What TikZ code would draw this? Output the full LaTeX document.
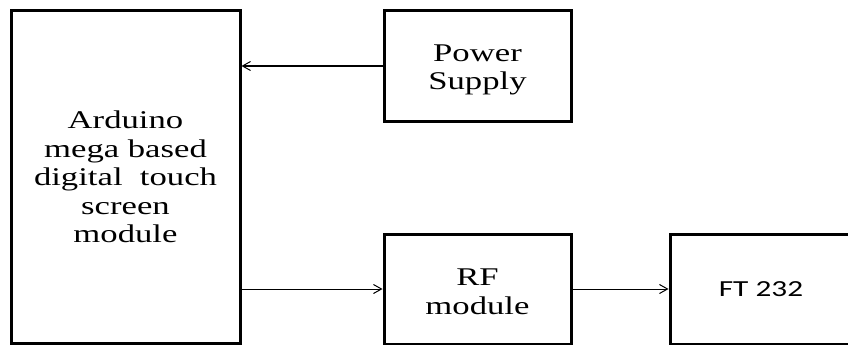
\documentclass[tikz,border=0pt]{standalone}
\usepackage{fontspec}
\usepackage{graphicx}
\setmainfont{Liberation Serif}
\newfontfamily\ftfont{Carlito}
\newcommand{\widetxt}[1]{\scalebox{1.36}[1]{#1}}
\usetikzlibrary{arrows.meta}
\begin{document}
\begin{tikzpicture}[x=1pt,y=-1pt,
  blk/.style={draw=black,line width=3pt,rectangle,inner sep=0pt},
  txt/.style={align=center,inner sep=0pt,font=\fontsize{25.5}{28.5}\selectfont},
  conn/.style={line width=1pt,-{Straight Barb[length=8pt,width=9pt]}}]
\useasboundingbox (0,0) rectangle (848,345);
\node[blk,minimum width=229pt,minimum height=332pt] (ard) at (125.5,177) {};
\node[blk,minimum width=187pt,minimum height=110pt] (ps) at (477.5,66) {};
\node[blk,minimum width=187pt,minimum height=110pt] (rf) at (477.5,289) {};
\node[blk,minimum width=190pt,minimum height=110pt] (ft) at (765,289) {};
\node[txt] (ardt) at (ard.center)
  {\widetxt{Arduino}\\\widetxt{mega based}\\\widetxt{digital\ \ touch}\\\widetxt{screen}\\\widetxt{module}};
\node[txt] (pst) at ([yshift=-4pt]ps.center) {\widetxt{Power}\\\widetxt{Supply}};
\node[txt] (rft) at ([yshift=-3pt]rf.center) {\widetxt{RF}\\\widetxt{module}};
\node[txt,font=\ftfont\fontsize{23}{26}\selectfont] (ftt) at ([xshift=-4pt]ft.center) {\widetxt{FT 232}};
\draw[conn] (ps.west) -- (ard.east |- ps.west);
\draw[conn] (ard.east |- rf.west) -- (rf.west);
\draw[conn] (rf.east) -- (ft.west);
\end{tikzpicture}
\end{document}
